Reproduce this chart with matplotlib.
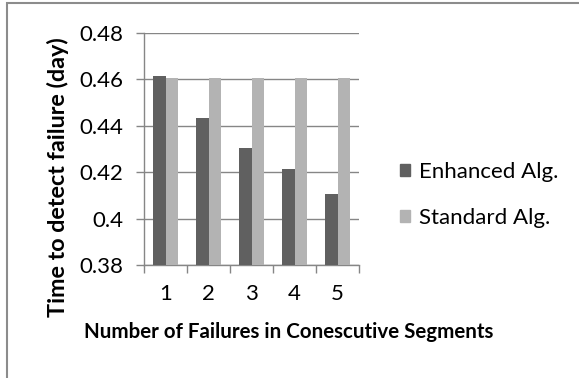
import matplotlib.pyplot as plt
from matplotlib.patches import Rectangle, Patch

# failures in consecutive segments vs detection time
failures = [1, 2, 3, 4, 5]
enhanced = [0.4616, 0.4435, 0.4303, 0.4213, 0.4105]
standard = [0.4607, 0.4607, 0.4607, 0.4607, 0.4607]
yticks = [0.38, 0.4, 0.42, 0.44, 0.46, 0.48]
ytick_labels = ['0.38', '0.4', '0.42', '0.44', '0.46', '0.48']

W, H = 579, 378
plt.rcParams['font.family'] = ['Lato', 'DejaVu Sans']

fig = plt.figure(figsize=(W / 100, H / 100), dpi=100)

# outer chart frame (only top/left visible)
fig.patches.append(Rectangle((7 / W, -0.1), 2, 1.1 - 3 / H, transform=fig.transFigure,
                             fill=False, edgecolor='#8c8c8c', linewidth=1.5))

ax = fig.add_axes([144 / W, (H - 265) / H, 215 / W, (265 - 33) / H])

grid_c = '#868686'
w = 0.29
ax.bar([x - w / 2 for x in failures], enhanced, width=w, color='#606060', zorder=3)
ax.bar([x + w / 2 for x in failures], standard, width=w, color='#b3b3b3', zorder=3)

ax.set_xlim(0.5, 5.5)
ax.set_ylim(0.38, 0.48)
ax.set_yticks(yticks)
ax.set_yticklabels(ytick_labels)
ax.set_xticks(failures)
ax.set_xticks([x + 0.5 for x in [0] + failures], minor=True)
ax.tick_params(axis='x', which='major', length=0, pad=14, labelsize=16)
ax.tick_params(axis='x', which='minor', length=6, width=1, color=grid_c)
ax.tick_params(axis='y', length=6, width=1, color=grid_c, pad=9, labelsize=16)
ax.grid(axis='y', color=grid_c, linewidth=1, zorder=0)

for s in ['top', 'right']:
    ax.spines[s].set_visible(False)
for s in ['left', 'bottom']:
    ax.spines[s].set_color(grid_c)
    ax.spines[s].set_linewidth(1)

ax.set_xlabel('Number of Failures in Conescutive Segments', fontsize=14.8,
              fontweight='bold')
ax.xaxis.set_label_coords(0.672, -0.245)
ax.set_ylabel('Time to detect failure (day)', fontsize=16.8, fontweight='bold')
ax.yaxis.set_label_coords(-0.347, 0.379)

handles = [Patch(color='#606060'), Patch(color='#b3b3b3')]
fig.legend(handles, ['Enhanced Alg.', 'Standard Alg.'], loc='center left',
           bbox_to_anchor=(380 / W, 1 - 195 / H), frameon=False, fontsize=16,
           handlelength=0.45, handleheight=0.45, handletextpad=0.4,
           labelspacing=1.15)

fig.savefig('out.png', dpi=100)
